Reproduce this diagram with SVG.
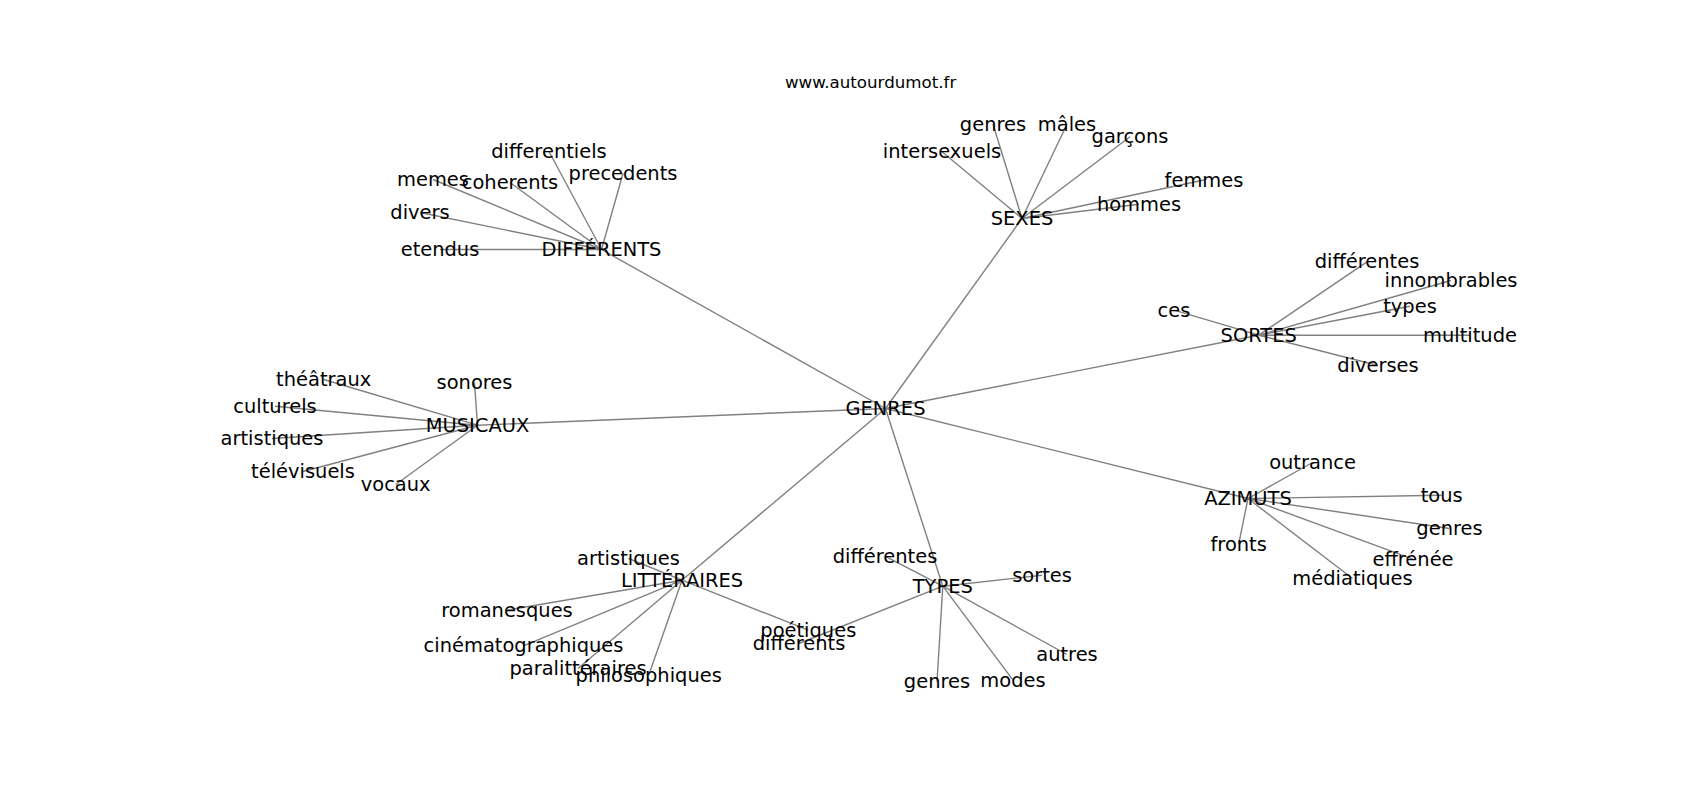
<svg xmlns="http://www.w3.org/2000/svg" width="1700" height="800" viewBox="0 0 1700 800">
<style>
.e line{stroke:#808080;stroke-width:1.4;fill:none}
text{font-family:"DejaVu Sans","Liberation Sans",sans-serif;font-size:19.44px;fill:#000;text-anchor:middle}
.t{font-size:16.67px}
</style>
<rect width="1700" height="800" fill="#fff"/>
<text class="t" x="870.6" y="87.8">www.autourdumot.fr</text>
<g class="e" id="edges">
<line x1="885.5" y1="408.5" x2="601.5" y2="249.5"/>
<line x1="885.5" y1="408.5" x2="1022" y2="218.5"/>
<line x1="885.5" y1="408.5" x2="1258.7" y2="335.2"/>
<line x1="885.5" y1="408.5" x2="1248" y2="498.5"/>
<line x1="885.5" y1="408.5" x2="942.8" y2="586.2"/>
<line x1="885.5" y1="408.5" x2="682" y2="580.2"/>
<line x1="885.5" y1="408.5" x2="477.5" y2="425.2"/>
<line x1="601.5" y1="249.5" x2="549" y2="151.5"/>
<line x1="601.5" y1="249.5" x2="433" y2="179.5"/>
<line x1="601.5" y1="249.5" x2="510" y2="182.5"/>
<line x1="601.5" y1="249.5" x2="623" y2="173.5"/>
<line x1="601.5" y1="249.5" x2="420" y2="212.5"/>
<line x1="601.5" y1="249.5" x2="440" y2="249.5"/>
<line x1="1022" y1="218.5" x2="993" y2="124.2"/>
<line x1="1022" y1="218.5" x2="1067" y2="124.2"/>
<line x1="1022" y1="218.5" x2="1130" y2="136.8"/>
<line x1="1022" y1="218.5" x2="942" y2="151.8"/>
<line x1="1022" y1="218.5" x2="1139" y2="204.2"/>
<line x1="1022" y1="218.5" x2="1204" y2="180"/>
<line x1="1258.7" y1="335.2" x2="1367" y2="261.8"/>
<line x1="1258.7" y1="335.2" x2="1451" y2="280.5"/>
<line x1="1258.7" y1="335.2" x2="1410" y2="306.2"/>
<line x1="1258.7" y1="335.2" x2="1174" y2="310.2"/>
<line x1="1258.7" y1="335.2" x2="1470" y2="335.2"/>
<line x1="1258.7" y1="335.2" x2="1378" y2="365.5"/>
<line x1="477.5" y1="425.2" x2="323.7" y2="379.5"/>
<line x1="477.5" y1="425.2" x2="474.5" y2="382.8"/>
<line x1="477.5" y1="425.2" x2="275" y2="406.2"/>
<line x1="477.5" y1="425.2" x2="272" y2="438.5"/>
<line x1="477.5" y1="425.2" x2="303" y2="471.5"/>
<line x1="477.5" y1="425.2" x2="395.7" y2="484.5"/>
<line x1="682" y1="580.2" x2="628.5" y2="558.5"/>
<line x1="682" y1="580.2" x2="507" y2="610.2"/>
<line x1="682" y1="580.2" x2="523.5" y2="645.8"/>
<line x1="682" y1="580.2" x2="578" y2="668.5"/>
<line x1="682" y1="580.2" x2="648.7" y2="675.2"/>
<line x1="682" y1="580.2" x2="808.3" y2="630.2"/>
<line x1="942.8" y1="586.2" x2="885" y2="556.2"/>
<line x1="942.8" y1="586.2" x2="1042" y2="575.2"/>
<line x1="942.8" y1="586.2" x2="937" y2="681.8"/>
<line x1="942.8" y1="586.2" x2="1013" y2="680.2"/>
<line x1="942.8" y1="586.2" x2="1067" y2="654.5"/>
<line x1="942.8" y1="586.2" x2="799" y2="643.5"/>
<line x1="1248" y1="498.5" x2="1312.5" y2="462.5"/>
<line x1="1248" y1="498.5" x2="1238.7" y2="544.2"/>
<line x1="1248" y1="498.5" x2="1441.7" y2="495.2"/>
<line x1="1248" y1="498.5" x2="1449.5" y2="528.5"/>
<line x1="1248" y1="498.5" x2="1413" y2="559.2"/>
<line x1="1248" y1="498.5" x2="1352.5" y2="578.5"/>
</g>
<g id="n-genres"><text x="885.5" y="415">GENRES</text></g>
<g id="n-differents"><text x="601.5" y="256">DIFFÉRENTS</text></g>
<g id="n-differentiels"><text x="549" y="158">differentiels</text></g>
<g id="n-memes"><text x="433" y="186">memes</text></g>
<g id="n-coherents"><text x="510" y="189">coherents</text></g>
<g id="n-precedents"><text x="623" y="180">precedents</text></g>
<g id="n-divers"><text x="420" y="219">divers</text></g>
<g id="n-etendus"><text x="440" y="256">etendus</text></g>
<g id="n-sexes"><text x="1022" y="225">SEXES</text></g>
<g id="n-genres-s"><text x="993" y="130.7">genres</text></g>
<g id="n-males"><text x="1067" y="130.7">mâles</text></g>
<g id="n-garcons"><text x="1130" y="143.3">garçons</text></g>
<g id="n-intersexuels"><text x="942" y="158.3">intersexuels</text></g>
<g id="n-hommes"><text x="1139" y="210.7">hommes</text></g>
<g id="n-femmes"><text x="1204" y="186.5">femmes</text></g>
<g id="n-sortes"><text x="1258.7" y="341.7">SORTES</text></g>
<g id="n-differentes-s"><text x="1367" y="268.3">différentes</text></g>
<g id="n-innombrables"><text x="1451" y="287">innombrables</text></g>
<g id="n-types"><text x="1410" y="312.7">types</text></g>
<g id="n-ces"><text x="1174" y="316.7">ces</text></g>
<g id="n-multitude"><text x="1470" y="341.7">multitude</text></g>
<g id="n-diverses"><text x="1378" y="372">diverses</text></g>
<g id="n-musicaux"><text x="477.5" y="431.7">MUSICAUX</text></g>
<g id="n-theatraux"><text x="323.7" y="386">théâtraux</text></g>
<g id="n-sonores"><text x="474.5" y="389.3">sonores</text></g>
<g id="n-culturels"><text x="275" y="412.7">culturels</text></g>
<g id="n-artistiques-m"><text x="272" y="445">artistiques</text></g>
<g id="n-televisuels"><text x="303" y="478">télévisuels</text></g>
<g id="n-vocaux"><text x="395.7" y="491">vocaux</text></g>
<g id="n-litteraires"><text x="682" y="586.7">LITTÉRAIRES</text></g>
<g id="n-artistiques-l"><text x="628.5" y="565">artistiques</text></g>
<g id="n-romanesques"><text x="507" y="616.7">romanesques</text></g>
<g id="n-cinematographiques"><text x="523.5" y="652.3">cinématographiques</text></g>
<g id="n-paralitteraires"><text x="578" y="675">paralittéraires</text></g>
<g id="n-philosophiques"><text x="648.7" y="681.7">philosophiques</text></g>
<g id="n-poetiques"><text x="808.3" y="636.7">poétiques</text></g>
<g id="n-types-n"><text x="942.8" y="592.7">TYPES</text></g>
<g id="n-differentes-t"><text x="885" y="562.7">différentes</text></g>
<g id="n-sortes-t"><text x="1042" y="581.7">sortes</text></g>
<g id="n-genres-t"><text x="937" y="688.3">genres</text></g>
<g id="n-modes"><text x="1013" y="686.7">modes</text></g>
<g id="n-autres"><text x="1067" y="661">autres</text></g>
<g id="n-differents-t"><text x="799" y="650">différents</text></g>
<g id="n-azimuts"><text x="1248" y="505">AZIMUTS</text></g>
<g id="n-outrance"><text x="1312.5" y="469">outrance</text></g>
<g id="n-fronts"><text x="1238.7" y="550.7">fronts</text></g>
<g id="n-tous"><text x="1441.7" y="501.7">tous</text></g>
<g id="n-genres-a"><text x="1449.5" y="535">genres</text></g>
<g id="n-effrenee"><text x="1413" y="565.7">effrénée</text></g>
<g id="n-mediatiques"><text x="1352.5" y="585">médiatiques</text></g>
</svg>
